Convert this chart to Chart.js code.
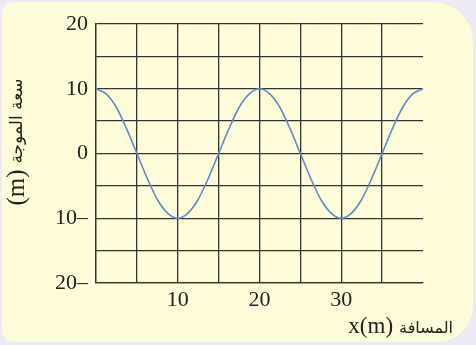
<!DOCTYPE html>
<html>
<head>
<meta charset="utf-8">
<script src="https://cdn.jsdelivr.net/npm/chart.js@4.4.0/dist/chart.umd.min.js"></script>
<style>
  html, body { margin: 0; padding: 0; background: #eeeaf5; }
  #wrap { width: 476px; height: 345px; }
</style>
</head>
<body>
<div id="wrap"><canvas id="myChart" width="476" height="345"></canvas></div>
<script>
// values (distance in m, wave amplitude in m)
const distance = [0, 1.25, 2.5, 3.75, 5, 6.25, 7.5, 8.75, 10, 11.25, 12.5, 13.75, 15, 16.25, 17.5, 18.75,
  20, 21.25, 22.5, 23.75, 25, 26.25, 27.5, 28.75, 30, 31.25, 32.5, 33.75, 35, 36.25, 37.5, 38.75, 40];
const amplitude = [10, 9.2, 7.1, 3.8, 0, -3.8, -7.1, -9.2, -10, -9.2, -7.1, -3.8, 0, 3.8, 7.1, 9.2,
  10, 9.2, 7.1, 3.8, 0, -3.8, -7.1, -9.2, -10, -9.2, -7.1, -3.8, 0, 3.8, 7.1, 9.2, 10];
const xTickLabels = [10, 20, 30];
const yTickLabels = [20, 10, 0, -10, -20];

const yTitleUnit = "(m)";
const yTitleText = "سعة الموجة";
const xTitleUnit = "x(m)";
const xTitleText = "المسافة";

const gridColor = "#333333";
const serif = "'Liberation Serif', 'DejaVu Serif', serif";
const arabic = "'DejaVu Sans', sans-serif";

// yellow rounded panel behind the chart
const panelPlugin = {
  id: "panel",
  beforeDraw(chart) {
    const ctx = chart.ctx;
    ctx.save();
    ctx.fillStyle = "#eeeaf5";
    ctx.fillRect(0, 0, chart.width, chart.height);
    ctx.fillStyle = "#fffcda";
    ctx.beginPath();
    ctx.roundRect(2, 2, 471, 340, [12, 40, 36, 12]);
    ctx.fill();
    ctx.restore();
  },
};

// axis titles with mixed latin / arabic fonts
const titlePlugin = {
  id: "titles",
  afterDraw(chart) {
    const ctx = chart.ctx;
    const area = chart.chartArea;
    ctx.save();
    ctx.fillStyle = "#222222";
    ctx.textBaseline = "alphabetic";

    // x title, right aligned past the plot
    ctx.font = "16px " + arabic;
    ctx.textAlign = "right";
    const xr = area.right + 30;
    const xb = area.bottom + 50;
    ctx.fillText(xTitleText, xr, xb);
    const aw = ctx.measureText(xTitleText).width;
    ctx.font = "23px " + serif;
    ctx.fillText(xTitleUnit, xr - aw - 6, xb);

    // y title, rotated
    ctx.translate(24, 142);
    ctx.rotate(-Math.PI / 2);
    ctx.font = "17px " + arabic;
    const tw = ctx.measureText(yTitleText).width;
    ctx.font = "25px " + serif;
    const uw = ctx.measureText(yTitleUnit).width;
    const start = -(tw + uw + 6) / 2;
    ctx.textAlign = "left";
    ctx.fillText(yTitleUnit, start, 0);
    ctx.font = "17px " + arabic;
    ctx.fillText(yTitleText, start + uw + 6, -2);
    ctx.restore();
  },
};

const data = {
  labels: distance,
  datasets: [
    {
      data: distance.map((x, i) => ({ x: x, y: amplitude[i] })),
      borderColor: "#5b8ec6",
      borderWidth: 1.6,
      pointRadius: 0,
      cubicInterpolationMode: "monotone",
      fill: false,
    },
  ],
};

const config = {
  type: "line",
  data,
  options: {
    responsive: false,
    animation: false,
    layout: { padding: { left: 0, right: 53, top: 24, bottom: 0 } },
    plugins: { legend: { display: false }, tooltip: { enabled: false } },
    scales: {
      x: {
        type: "linear",
        min: 0,
        max: 40,
        ticks: {
          stepSize: 5,
          padding: 4,
          color: "#222222",
          font: { family: serif, size: 22 },
          callback: (v) => (xTickLabels.includes(v) ? String(v) : ""),
        },
        grid: {
          drawTicks: false,
          lineWidth: 1.3,
          color: (c) => (c.tick && c.tick.value === 40 ? "rgba(0,0,0,0)" : gridColor),
        },
        border: { color: gridColor, width: 1.3 },
        afterFit: (s) => { s.height = 62; },
      },
      y: {
        min: -20,
        max: 20,
        ticks: {
          stepSize: 5,
          padding: 8,
          color: "#222222",
          font: { family: serif, size: 22 },
          callback: (v) => (yTickLabels.includes(v) ? (v < 0 ? Math.abs(v) + "–" : String(v)) : ""),
        },
        grid: { drawTicks: false, lineWidth: 1.3, color: gridColor },
        border: { color: gridColor, width: 1.3 },
        afterFit: (s) => { s.width = 96; },
      },
    },
  },
  plugins: [panelPlugin, titlePlugin],
};

const myChart = new Chart(document.querySelector("#myChart"), config);
</script>
</body>
</html>
